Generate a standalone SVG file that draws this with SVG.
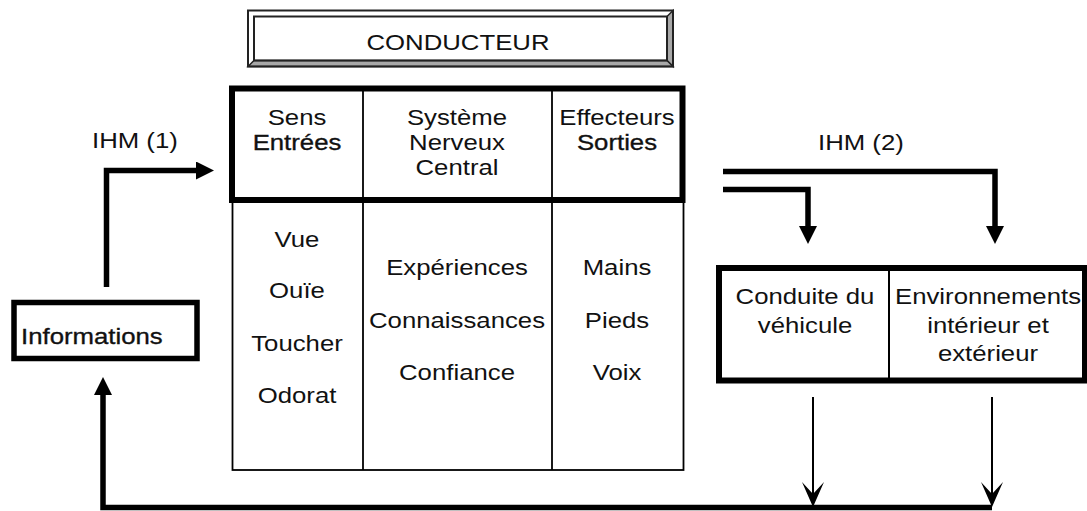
<svg xmlns="http://www.w3.org/2000/svg" width="1087" height="511" viewBox="0 0 1087 511">
  <style>
    text { font-family: "Liberation Sans", Arial, Helvetica, sans-serif; font-size: 23px; fill: #111; text-anchor: middle; }
    .left { text-anchor: start; }
    .semi { stroke: #111; stroke-width: 0.35px; }
    .thick { fill: none; stroke: #000; stroke-width: 6; }
    .thin { fill: none; stroke: #000; stroke-width: 1.8; }
    .bevel-line { fill: none; stroke: #222; stroke-width: 2; }
    .bevel-shade { fill: #a8a8a8; stroke: #222; stroke-width: 1.5; stroke-linejoin: miter; }
    .flow { fill: none; stroke: #000; stroke-width: 5.5; stroke-linejoin: miter; stroke-linecap: butt; }
    .flow-thin { fill: none; stroke: #000; stroke-width: 2; }
  </style>
  <defs>
    <marker id="head-solid" viewBox="0 0 18 18" refX="10" refY="9" markerWidth="18" markerHeight="18" markerUnits="userSpaceOnUse" orient="auto">
      <path d="M0,0 L18,9 L0,18 Z" fill="#000"/>
    </marker>
    <marker id="head-barb" viewBox="0 0 25 22" refX="23" refY="11" markerWidth="25" markerHeight="22" markerUnits="userSpaceOnUse" orient="auto">
      <path d="M0,0 L25,11 L0,22 L12,11 Z" fill="#000"/>
    </marker>
  </defs>

  <rect width="1087" height="511" fill="#fff"/>

  <!-- Title plate with bevelled right and bottom edges -->
  <g id="node-conducteur">
    <rect x="248" y="10.5" width="425" height="56" fill="#fff"/>
    <polygon class="bevel-shade" points="667,16.5 673,10.5 673,66.5 667,60.5"/>
    <polygon class="bevel-shade" points="254,60.5 667,60.5 673,66.5 248,66.5"/>
    <rect class="bevel-line" x="248" y="10.5" width="425" height="56"/>
    <rect class="bevel-line" x="254" y="16.5" width="413" height="44"/>
    <g transform="translate(458 0) scale(1.12 1)"><text x="0" y="50">CONDUCTEUR</text></g>
  </g>

  <!-- Driver table: header row with heavy frame, detail row below -->
  <g id="node-table">
    <rect class="thin" x="232.5" y="200" width="451" height="270"/>
    <line class="thin" x1="363" y1="88" x2="363" y2="470"/>
    <line class="thin" x1="552" y1="88" x2="552" y2="470"/>
    <rect class="thick" x="232" y="88.5" width="450.5" height="111.5"/>

    <g id="col-sens" transform="translate(297 0) scale(1.12 1)">
      <text x="0" y="125">Sens</text>
      <text class="semi" x="0" y="150">Entrées</text>
      <text x="0" y="247">Vue</text>
      <text x="0" y="298">Ouïe</text>
      <text x="0" y="351">Toucher</text>
      <text x="0" y="403">Odorat</text>
    </g>
    <g id="col-snc" transform="translate(457 0) scale(1.12 1)">
      <text x="0" y="125">Système</text>
      <text x="0" y="150">Nerveux</text>
      <text x="0" y="175">Central</text>
      <text x="0" y="275">Expériences</text>
      <text x="0" y="328">Connaissances</text>
      <text x="0" y="380">Confiance</text>
    </g>
    <g id="col-effecteurs" transform="translate(617 0) scale(1.12 1)">
      <text x="0" y="125">Effecteurs</text>
      <text class="semi" x="0" y="150">Sorties</text>
      <text x="0" y="275">Mains</text>
      <text x="0" y="328">Pieds</text>
      <text x="0" y="380">Voix</text>
    </g>
  </g>

  <!-- Information source box -->
  <g id="node-informations">
    <rect class="flow" x="14" y="302.5" width="183" height="56" stroke-width="5"/>
    <g transform="translate(21 0) scale(1.12 1)"><text class="left semi" x="0" y="344">Informations</text></g>
  </g>

  <!-- Driving task and environment box -->
  <g id="node-effets">
    <rect class="thick" x="719" y="268" width="366" height="112.5"/>
    <line class="flow-thin" x1="889" y1="268" x2="889" y2="380"/>
    <g transform="translate(805 0) scale(1.12 1)">
      <text x="0" y="304">Conduite du</text>
      <text x="0" y="333">véhicule</text>
    </g>
    <g transform="translate(988 0) scale(1.12 1)">
      <text x="0" y="304">Environnements</text>
      <text x="0" y="333">intérieur et</text>
      <text x="0" y="361">extérieur</text>
    </g>
  </g>

  <!-- Interface labels -->
  <g id="labels">
    <g transform="translate(92 0) scale(1.12 1)"><text class="left" x="0" y="148">IHM (1)</text></g>
    <g transform="translate(818 0) scale(1.12 1)"><text class="left" x="0" y="150">IHM (2)</text></g>
  </g>

  <!-- Connectors -->
  <g id="connectors">
    <path class="flow" d="M106.5,287 V170.5 H206" marker-end="url(#head-solid)"/>
    <path class="flow" d="M723,171.5 H995 V236" marker-end="url(#head-solid)"/>
    <path class="flow" d="M723,189.5 H808 V236" marker-end="url(#head-solid)"/>
    <path class="flow-thin" d="M813,397 V505" marker-end="url(#head-barb)"/>
    <path class="flow-thin" d="M992,397 V505" marker-end="url(#head-barb)"/>
    <path class="flow" d="M992,507.5 H103 V385" marker-end="url(#head-solid)"/>
  </g>
</svg>
